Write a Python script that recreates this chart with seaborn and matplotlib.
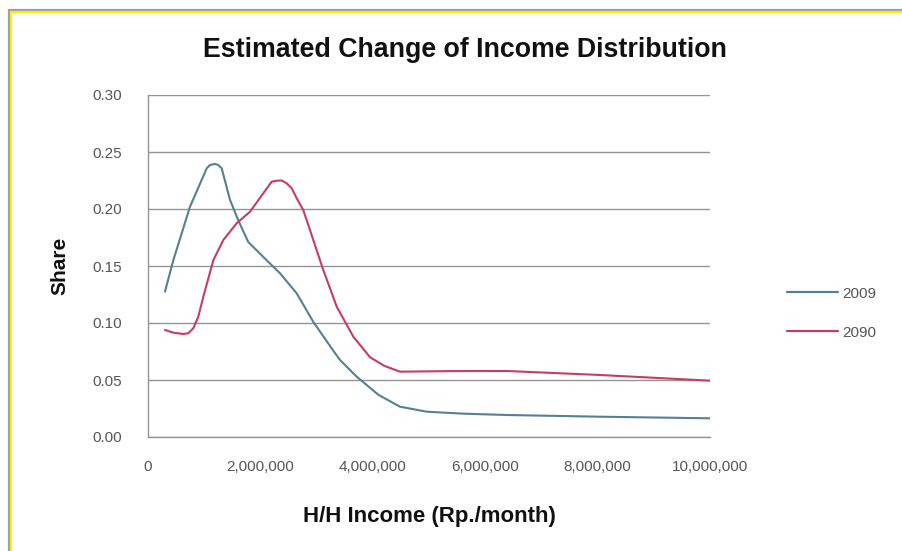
import matplotlib
matplotlib.use("Agg")
import matplotlib.pyplot as plt
from matplotlib.lines import Line2D
import seaborn as sns
import pandas as pd

# Household income (Rp./month) and share of households, 2009
income_2009 = [302000, 450000, 747000, 1045000, 1103000, 1192000, 1251000,
               1311000, 1459000, 1607000, 1785000, 2112000, 2349000, 2646000,
               2941000, 3297000, 3416000, 3714000, 4100000, 4484000, 4959000,
               5600000, 6383000, 8043000, 10000000]
share_2009 = [0.1275, 0.155, 0.202, 0.2357, 0.2386, 0.2395, 0.2386,
              0.2357, 0.208, 0.190, 0.171, 0.155, 0.1436, 0.126,
              0.1010, 0.0757, 0.0676, 0.0529, 0.0370, 0.0266, 0.0222,
              0.0205, 0.0193, 0.0178, 0.0164]

# Projected distribution, 2090
income_2090 = [302000, 450000, 628000, 717000, 806000, 895000, 984000,
               1162000, 1340000, 1578000, 1815000, 2052000, 2201000, 2290000,
               2379000, 2468000, 2557000, 2646000, 2763000, 2941000, 3119000,
               3358000, 3653000, 3950000, 4200000, 4484000, 5400000, 6383000,
               8043000, 10000000]
share_2090 = [0.0939, 0.0915, 0.0904, 0.0910, 0.0954, 0.1055, 0.123,
              0.155, 0.1728, 0.1875, 0.1976, 0.2138, 0.2240, 0.2248,
              0.2250, 0.2225, 0.2182, 0.2094, 0.1991, 0.1728, 0.1465,
              0.1143, 0.088, 0.070, 0.0625, 0.0573, 0.0578, 0.0579,
              0.0544, 0.0494]

series_names = ["2009", "2090"]
series_colors = ["#557f93", "#c63d60"]

x_ticks = [0, 2000000, 4000000, 6000000, 8000000, 10000000]
x_tick_labels = ["0", "2,000,000", "4,000,000", "6,000,000", "8,000,000", "10,000,000"]
y_ticks = [0.00, 0.05, 0.10, 0.15, 0.20, 0.25, 0.30]
y_tick_labels = ["0.00", "0.05", "0.10", "0.15", "0.20", "0.25", "0.30"]

df = pd.concat([
    pd.DataFrame({"income": income_2009, "share": share_2009, "year": series_names[0]}),
    pd.DataFrame({"income": income_2090, "share": share_2090, "year": series_names[1]}),
], ignore_index=True)

sns.set_theme(style="white")
plt.rcParams["font.family"] = ["Liberation Sans", "DejaVu Sans"]

W, H = 903, 551
fig = plt.figure(figsize=(W / 100, H / 100), dpi=100)
fig.patch.set_facecolor("white")
ax = fig.add_axes([148 / W, 1 - 437 / H, 562 / W, 342 / H])

sns.lineplot(data=df, x="income", y="share", hue="year", hue_order=series_names,
             palette=series_colors, estimator=None, sort=True, linewidth=1.5, ax=ax)
for line in ax.get_lines():
    line.set_solid_joinstyle("round")

ax.set_xlim(0, 10000000)
ax.set_ylim(0, 0.30)
ax.set_xticks(x_ticks)
ax.set_xticklabels(x_tick_labels)
ax.set_yticks(y_ticks)
ax.set_yticklabels(y_tick_labels)
ax.yaxis.grid(True, color="#949494", linewidth=1.0)
ax.xaxis.grid(False)
for side in ["top", "right"]:
    ax.spines[side].set_visible(False)
for side in ["left", "bottom"]:
    ax.spines[side].set_color("#949494")
    ax.spines[side].set_linewidth(1.0)
ax.tick_params(axis="both", which="both", direction="out", length=3.6, width=1,
               color="#949494", labelsize=11, labelcolor="#555555")
ax.tick_params(axis="x", pad=13)
ax.tick_params(axis="y", pad=15)

ax.set_xlabel("H/H Income (Rp./month)", fontsize=16, fontweight="bold", color="#111111")
ax.xaxis.set_label_coords(0.5, -0.203)
ax.set_ylabel("Share", fontsize=15, fontweight="bold", color="#111111")
ax.yaxis.set_label_coords(-0.139, 0.5)

fig.text(465 / W, 1 - 57 / H, "Estimated Change of Income Distribution", fontsize=19.3,
         fontweight="bold", color="#111111", ha="center", va="baseline")

handles = [Line2D([0], [0], color=c, linewidth=1.6) for c in series_colors]
ax.legend(handles, series_names, loc="center left", bbox_to_anchor=(1.113, 0.362),
          frameon=False, fontsize=11, handlelength=3.35, handletextpad=0.25,
          labelspacing=1.65, labelcolor="#555555")

# window frame along the top and left edges
fig.add_artist(Line2D([8.5 / W, 1], [1 - 9.5 / H, 1 - 9.5 / H], color="#a0a0a0", linewidth=1.6,
                      transform=fig.transFigure))
fig.add_artist(Line2D([8.5 / W, 8.5 / W], [0, 1 - 9.5 / H], color="#a0a0a0", linewidth=1.6,
                      transform=fig.transFigure))
fig.add_artist(Line2D([11 / W, 1], [1 - 11.8 / H, 1 - 11.8 / H], color="#ffee00", linewidth=1.4,
                      transform=fig.transFigure))
fig.add_artist(Line2D([11 / W, 11 / W], [0, 1 - 11.8 / H], color="#ffee00", linewidth=1.4,
                      transform=fig.transFigure))

fig.savefig("out.png", dpi=100, facecolor="white")
